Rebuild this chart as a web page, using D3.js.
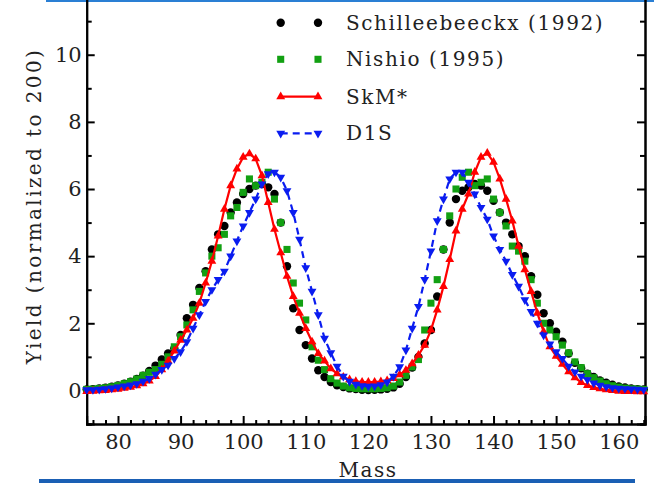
<!DOCTYPE html>
<html>
<head>
<meta charset="utf-8">
<script src="https://cdn.jsdelivr.net/npm/d3@7"></script>
<style>
  body { margin: 0; background: #fff; }
  svg { display: block; }
  text { font-family: "DejaVu Serif", serif; fill: #222; }
</style>
</head>
<body>
<div id="plot-container"></div>
<script>
// mass numbers (x categories)
const mass = [75, 76, 77, 78, 79, 80, 81, 82, 83, 84, 85, 86, 87, 88, 89, 90, 91, 92, 93, 94,
  95, 96, 97, 98, 99, 100, 101, 102, 103, 104, 105, 106, 107, 108, 109, 110, 111, 112, 113, 114,
  115, 116, 117, 118, 119, 120, 121, 122, 123, 124, 125, 126, 127, 128, 129, 130, 131, 132, 133, 134,
  135, 136, 137, 138, 139, 140, 141, 142, 143, 144, 145, 146, 147, 148, 149, 150, 151, 152, 153, 154,
  155, 156, 157, 158, 159, 160, 161, 162, 163, 164];

// Schilleebeeckx (1992)
const schill = [0.03, 0.04, 0.06, 0.08, 0.11, 0.15, 0.2, 0.26, 0.34, 0.44,
  0.58, 0.74, 0.92, 1.1, 1.25, 1.65, 2.15, 2.55, 3.05, 3.55,
  4.2, 4.65, 4.9, 5.3, 5.6, 5.85, 6.0, 6.1, 6.15, 6.05,
  5.85, 5.0, 3.7, 2.45, 1.8, 1.35, 0.95, 0.6, 0.4, 0.25,
  0.15, 0.1, 0.06, 0.04, 0.02, 0.01, 0.02, 0.03, 0.05, 0.09,
  0.2, 0.4, 0.68, 1.0, 1.4, 1.8, 2.8, 4.2, 5.0, 5.7,
  5.95, 6.05, 6.15, 6.1, 5.95, 5.65, 5.3, 5.0, 4.65, 4.3,
  4.0, 3.4, 2.85, 2.3, 2.0, 1.75, 1.45, 1.1, 0.82, 0.66,
  0.5, 0.4, 0.3, 0.23, 0.17, 0.12, 0.09, 0.06, 0.04, 0.03];

// Nishio (1995)
const nishio = [0.03, 0.04, 0.06, 0.08, 0.11, 0.15, 0.2, 0.26, 0.34, 0.45,
  0.54, 0.62, 0.78, 1.0, 1.3, 1.6, 1.95, 2.4, 2.95, 3.5,
  4.0, 4.25, 4.65, 5.2, 5.45, 5.9, 6.3, 6.1, 6.2, 6.5,
  5.7, 5.0, 4.2, 3.2, 2.6, 2.1, 1.3, 0.9, 0.62, 0.35,
  0.22, 0.13, 0.08, 0.06, 0.05, 0.05, 0.05, 0.06, 0.08, 0.13,
  0.25, 0.45, 0.7, 0.92, 1.8, 2.6, 3.3, 4.2, 5.2, 6.0,
  6.35, 6.5, 6.1, 6.2, 6.3, 5.7, 5.3, 4.9, 4.3, 4.15,
  3.85, 3.3, 2.6, 2.0, 1.8, 1.6, 1.35, 1.12, 0.85, 0.68,
  0.5, 0.38, 0.28, 0.2, 0.14, 0.1, 0.07, 0.05, 0.04, 0.03];

// SkM*
const skm = [-0.03, -0.02, -0.01, 0.0, 0.02, 0.04, 0.07, 0.1, 0.14, 0.2,
  0.28, 0.42, 0.62, 0.88, 1.18, 1.5, 1.8, 2.15, 2.6, 3.2,
  3.85, 4.6, 5.4, 6.1, 6.6, 6.95, 7.05, 6.9, 6.4, 5.6,
  4.8, 4.1, 3.4, 2.8, 2.3, 1.85, 1.45, 1.1, 0.88, 0.65,
  0.5, 0.4, 0.32, 0.27, 0.25, 0.25, 0.25, 0.26, 0.29, 0.36,
  0.47, 0.6, 0.8, 1.05, 1.35, 1.8, 2.4, 3.1, 3.9, 4.75,
  5.4, 5.85, 6.5, 6.95, 7.07, 6.8, 6.3, 5.7, 5.05, 4.3,
  3.6, 2.95, 2.3, 1.75, 1.3, 1.02, 0.78, 0.56, 0.38, 0.24,
  0.15, 0.09, 0.05, 0.02, 0.0, -0.02, -0.03, -0.03, -0.04, -0.04];

// D1S
const d1s = [0.02, 0.02, 0.03, 0.05, 0.07, 0.1, 0.13, 0.16, 0.2, 0.27,
  0.35, 0.48, 0.62, 0.75, 0.95, 1.15, 1.45, 1.85, 2.25, 2.65,
  3.0, 3.3, 3.55, 4.0, 4.45, 4.9, 5.3, 5.7, 6.15, 6.45,
  6.5, 6.35, 5.95, 5.3, 4.5, 3.65, 2.95, 2.25, 1.55, 1.12,
  0.72, 0.42, 0.27, 0.18, 0.14, 0.12, 0.13, 0.17, 0.25, 0.42,
  0.7, 1.2, 1.85, 2.5, 3.3, 4.15, 5.05, 5.7, 6.3, 6.5,
  6.5, 6.2, 5.85, 5.45, 5.1, 4.6, 4.2, 3.85, 3.45, 3.1,
  2.7, 2.35, 2.0, 1.65, 1.38, 1.15, 0.95, 0.72, 0.55, 0.42,
  0.32, 0.22, 0.15, 0.11, 0.08, 0.06, 0.05, 0.04, 0.03, 0.02];

const seriesNames = ["Schilleebeeckx (1992)", "Nishio (1995)", "SkM*", "D1S"];
const xMajor = [80, 90, 100, 110, 120, 130, 140, 150, 160];
const yMajor = [0, 2, 4, 6, 8, 10];

const W = 654, H = 483;
const svg = d3.select("#plot-container").append("svg")
  .attr("width", W).attr("height", H);

const x = d3.scaleLinear().domain([75, 164.2]).range([86.7, 645]);
const y = d3.scaleLinear().domain([-1, 12]).range([424, 424 - 13 * 33.57]);

// page decoration lines
svg.append("rect").attr("x", 46).attr("y", 0).attr("width", W - 46).attr("height", 2)
  .attr("fill", "#2a7fd4");
svg.append("rect").attr("x", 39).attr("y", 479).attr("width", 596).attr("height", 4)
  .attr("fill", "#1a5fb4");

// axes
const tickFont = g => g.selectAll("text")
  .style("font-size", "21px").style("font-family", "DejaVu Serif, serif").attr("fill", "#222");
const styleAxis = g => {
  g.select(".domain").attr("stroke", "#000").attr("stroke-width", 2);
  g.selectAll(".tick line").attr("stroke", "#000").attr("stroke-width", 2);
};

const xMinor = d3.range(76, 165, 2).filter(v => v % 10 !== 0);
const yMinor = [-1, 1, 3, 5, 7, 9, 11];

svg.append("g").attr("transform", "translate(0,424)")
  .call(d3.axisBottom(x).tickValues(xMinor).tickSize(-4).tickFormat(""))
  .call(styleAxis);
svg.append("g").attr("transform", "translate(0,424)")
  .call(d3.axisBottom(x).tickValues(xMajor).tickSize(-8).tickPadding(10))
  .call(styleAxis).call(tickFont);

svg.append("g").attr("transform", "translate(86.7,0)")
  .call(d3.axisLeft(y).tickValues(yMinor).tickSize(-5).tickFormat(""))
  .call(styleAxis);
svg.append("g").attr("transform", "translate(86.7,0)")
  .call(d3.axisLeft(y).tickValues(yMajor).tickSize(-8).tickPadding(5))
  .call(styleAxis).call(tickFont);

svg.append("g").attr("transform", "translate(645,0)")
  .call(d3.axisRight(y).tickValues(yMinor).tickSize(-5).tickFormat(""))
  .call(styleAxis);
svg.append("g").attr("transform", "translate(645,0)")
  .call(d3.axisRight(y).tickValues(yMajor).tickSize(-8).tickFormat(""))
  .call(styleAxis);

// axis titles
svg.append("text")
  .attr("transform", "translate(41,206) rotate(-90)")
  .attr("text-anchor", "middle")
  .style("font-size", "20px").style("letter-spacing", "2.4px")
  .text("Yield (normalized to 200)");
svg.append("text")
  .attr("x", 368).attr("y", 477)
  .attr("text-anchor", "middle")
  .style("font-size", "20px").style("letter-spacing", "1.5px")
  .text("Mass");

// series
const pts = arr => mass.map((m, i) => [m, arr[i]]);
const plot = svg.append("g");

const sym = (type, size) => d3.symbol().type(type).size(size)();

plot.append("g").selectAll("circle").data(pts(schill)).join("circle")
  .attr("cx", d => x(d[0])).attr("cy", d => y(d[1])).attr("r", 4.2).attr("fill", "#000");

plot.append("g").selectAll("path").data(pts(nishio)).join("path")
  .attr("d", sym(d3.symbolSquare, 50))
  .attr("transform", d => `translate(${x(d[0])},${y(d[1])})`)
  .attr("fill", "#12a012");

const line = d3.line().x(d => x(d[0])).y(d => y(d[1]));

plot.append("path").datum(pts(skm)).attr("d", line)
  .attr("fill", "none").attr("stroke", "#f00").attr("stroke-width", 2.2);
plot.append("g").selectAll("path").data(pts(skm)).join("path")
  .attr("d", sym(d3.symbolTriangle, 34))
  .attr("transform", d => `translate(${x(d[0])},${y(d[1])})`)
  .attr("fill", "#f00");

plot.append("path").datum(pts(d1s)).attr("d", line)
  .attr("fill", "none").attr("stroke", "#0a1cf0").attr("stroke-width", 2.2)
  .attr("stroke-dasharray", "7,5");
plot.append("g").selectAll("path").data(pts(d1s)).join("path")
  .attr("d", sym(d3.symbolTriangle, 34))
  .attr("transform", d => `translate(${x(d[0])},${y(d[1])}) rotate(180)`)
  .attr("fill", "#0a1cf0");

// legend
const legendY = [22.7, 59.3, 96.7, 133.3];
const lx0 = 280.7, lx1 = 318, ltx = 346;
const leg = svg.append("g");
seriesNames.forEach((name, i) => {
  const ly = legendY[i];
  if (i === 0) {
    [lx0, lx1].forEach(cx => leg.append("circle").attr("cx", cx).attr("cy", ly).attr("r", 4.2).attr("fill", "#000"));
  } else if (i === 1) {
    [lx0, lx1].forEach(cx => leg.append("path").attr("d", sym(d3.symbolSquare, 50))
      .attr("transform", `translate(${cx},${ly})`).attr("fill", "#12a012"));
  } else {
    const c = i === 2 ? "#f00" : "#0a1cf0";
    leg.append("line").attr("x1", lx0).attr("x2", lx1).attr("y1", ly).attr("y2", ly)
      .attr("stroke", c).attr("stroke-width", 2.2)
      .attr("stroke-dasharray", i === 3 ? "7,5" : null);
    [lx0, lx1].forEach(cx => leg.append("path").attr("d", sym(d3.symbolTriangle, 34))
      .attr("transform", `translate(${cx},${ly})` + (i === 3 ? " rotate(180)" : ""))
      .attr("fill", c));
  }
  leg.append("text").attr("x", ltx).attr("y", ly).attr("dy", "0.35em")
    .style("font-size", "20px").style("letter-spacing", "1.6px")
    .text(name);
});
</script>
</body>
</html>
